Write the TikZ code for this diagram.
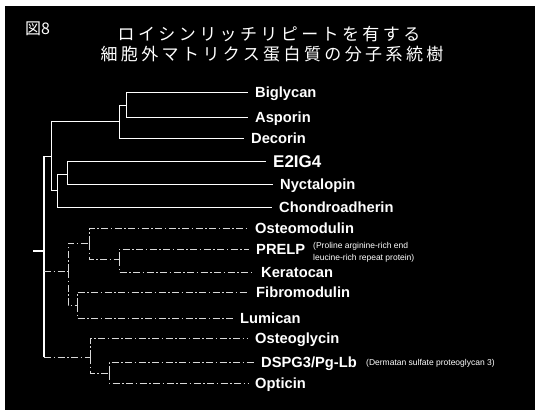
\documentclass[tikz,border=0pt]{standalone}
\usepackage{fontspec}
\setmainfont{Liberation Sans}
\newfontfamily\cjk{Noto Sans CJK JP}
\newfontfamily\cjkspaced[LetterSpace=20]{Noto Sans CJK JP}
\begin{document}
\begin{tikzpicture}[x=1pt,y=-1pt,
  leaflabel/.style={anchor=west, inner xsep=7pt, inner ysep=0pt, text=white,
    text height=10.5pt, text depth=0pt, font=\bfseries\fontsize{14.7}{16}\selectfont},
  biglabel/.style={leaflabel, text height=12.5pt, font=\bfseries\fontsize{17}{19}\selectfont},
  notelabel/.style={anchor=west, inner sep=0pt, text=white, font=\fontsize{8.5}{9}\selectfont},
  treeline/.style={draw=white, line width=0.9pt},
  lowline/.style={treeline, line width=0.75pt, draw=white!85!black, dash pattern=on 7pt off 2.5pt on 1.5pt off 2.5pt},
  titletext/.style={text=white, inner sep=0pt}]
\useasboundingbox (0,0) rectangle (535,410);
\fill[white] (0,0) rectangle (535,410);
\fill[black] (5,6) rectangle (535,410);

% titles
\node[titletext, font=\cjk\fontsize{16}{17}\selectfont, anchor=west] (fig) at (25,29) {図8};
\node[titletext, font=\cjkspaced\fontsize{17}{18}\selectfont] (t1) at (269,34) {ロイシンリッチリピートを有する};
\node[titletext, font=\cjkspaced\fontsize{17}{18}\selectfont] (t2) at (272,54) {細胞外マトリクス蛋白質の分子系統樹};

% leaves
\node[leaflabel] (big) at (248,92) {Biglycan};
\node[leaflabel] (asp) at (248,117) {Asporin};
\node[leaflabel] (dec) at (244,138) {Decorin};
\node[biglabel]  (e2)  at (266,161) {E2IG4};
\node[leaflabel] (nyc) at (273,184) {Nyctalopin};
\node[leaflabel] (cho) at (272,207) {Chondroadherin};
\node[leaflabel] (ost) at (248,228) {Osteomodulin};
\node[leaflabel] (pre) at (249,249) {PRELP};
\node[leaflabel] (ker) at (254,272) {Keratocan};
\node[leaflabel] (fib) at (249,292) {Fibromodulin};
\node[leaflabel] (lum) at (233,318) {Lumican};
\node[leaflabel] (osg) at (248,338) {Osteoglycin};
\node[leaflabel] (dsp) at (254,362) {DSPG3/Pg-Lb};
\node[leaflabel] (opt) at (248,383) {Opticin};

% notes
\node[notelabel] (n1) at (313,246) {(Proline arginine-rich end};
\node[notelabel] (n2) at (313,258) {leucine-rich repeat protein)};
\node[notelabel] (n3) at (366,363) {(Dermatan sulfate proteoglycan 3)};

% internal nodes
\coordinate (nA)  at (126,105);
\coordinate (nAD) at (119,121);
\coordinate (nD)  at (67,174);
\coordinate (nC)  at (57,190);
\coordinate (nB)  at (51,156);
\coordinate (nPK) at (119,259);
\coordinate (nE)  at (89,243);
\coordinate (nG)  at (77,305);
\coordinate (nF)  at (68,271);
\coordinate (nI)  at (109,373);
\coordinate (nH)  at (90,357);
\coordinate (root) at (44,251);
\coordinate (stub) at (33,251);

% upper clade (solid)
\draw[treeline] (nA) |- (big.west);
\draw[treeline] (nA) |- (asp.west);
\draw[treeline] (nAD) |- (nA);
\draw[treeline] (nAD) |- (dec.west);
\draw[treeline] (nD) |- (e2.west);
\draw[treeline] (nD) |- (nyc.west);
\draw[treeline] (nC) |- (nD);
\draw[treeline] (nC) |- (cho.west);
\draw[treeline] (nB) |- (nAD);
\draw[treeline] (nB) |- (nC);

% root
\draw[treeline, line width=1.3pt] (nB -| root) -- (nH -| root);
\draw[treeline, line width=1.3pt] (stub) -- (root);
\draw[treeline] (nB -| root) -- (nB);

% lower clades (broken lines)
\draw[lowline] (nF -| root) -- (nF);
\draw[lowline] (nH -| root) -- (nH);
\draw[lowline] (nPK) |- (pre.west);
\draw[lowline] (nPK) |- (ker.west);
\draw[lowline] (nE) |- (ost.west);
\draw[lowline] (nE) |- (nPK);
\draw[lowline] (nG) |- (fib.west);
\draw[lowline] (nG) |- (lum.west);
\draw[lowline] (nF) |- (nE);
\draw[lowline] (nF) |- (nG);
\draw[lowline] (nI) |- (dsp.west);
\draw[lowline] (nI) |- (opt.west);
\draw[lowline] (nH) |- (osg.west);
\draw[lowline] (nH) |- (nI);
\end{tikzpicture}
\end{document}
